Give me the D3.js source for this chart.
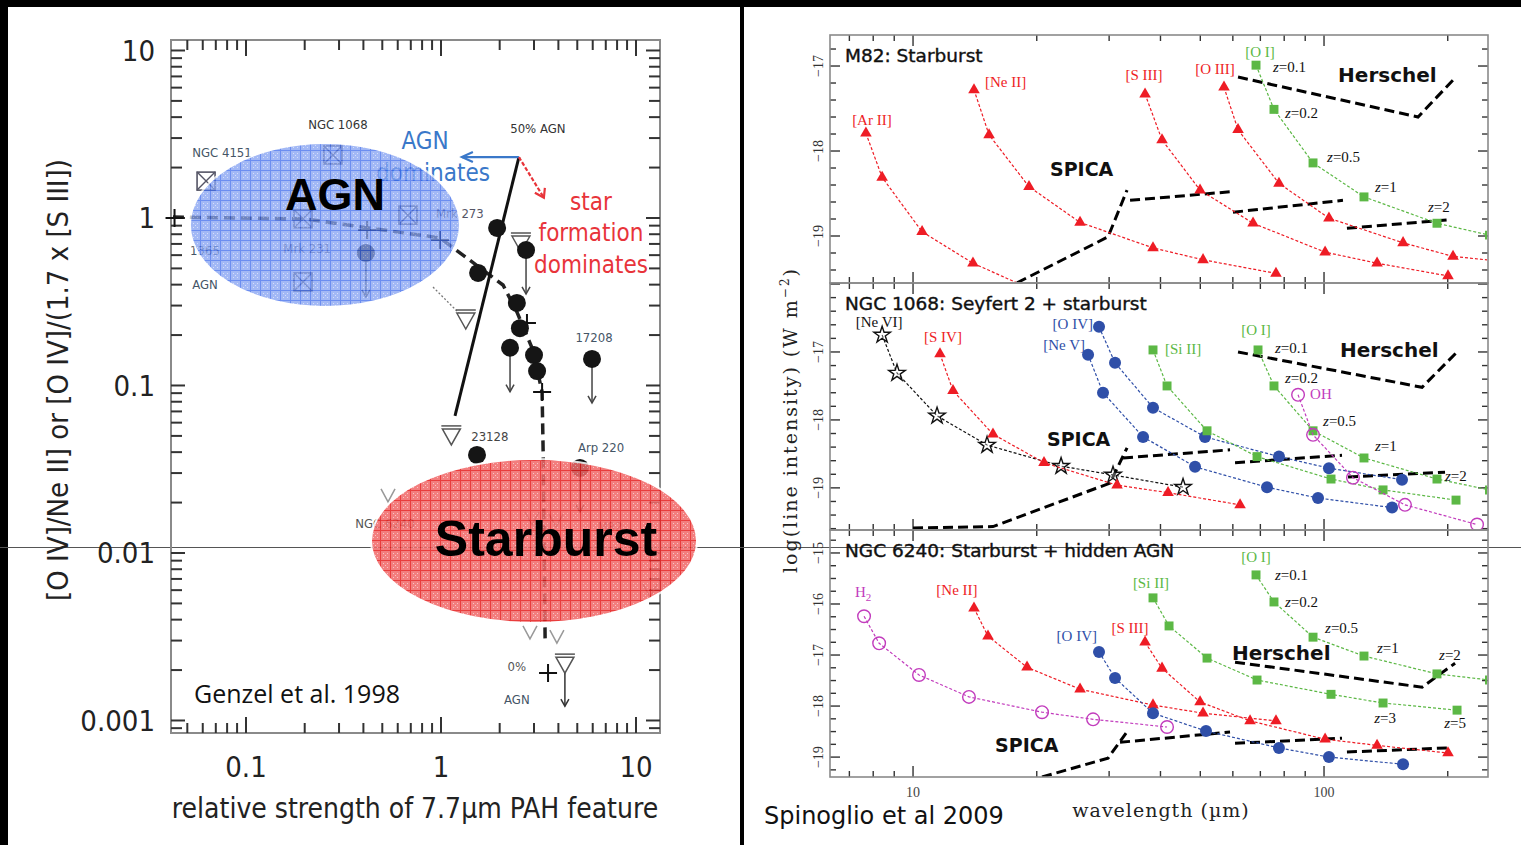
<!DOCTYPE html>
<html><head><meta charset="utf-8">
<script src="https://cdn.jsdelivr.net/npm/d3@7"></script>
<style>body{margin:0;background:#000}svg{display:block}</style>
</head><body>
<svg id="fig" width="1521" height="845"></svg>
<script>
// ===================== Left figure: Genzel et al. 1998 =====================
const pahTickValues = [0.1, 1, 10];
const pahTickLabels = ["0.1", "1", "10"];
const ratioTickValues = [0.001, 0.01, 0.1, 1, 10];
const ratioTickLabels = ["0.001", "0.01", "0.1", "1", "10"];

// ULIRGs (filled circles): PAH strength, line ratio, upper-limit flag
const ulirgPah   = [0.412, 1.94, 2.73, 1.55, 2.45, 2.54, 2.26, 3.00, 3.11, 5.95, 1.53, 5.16];
const ulirgRatio = [0.618, 0.872, 0.644, 0.470, 0.311, 0.220, 0.168, 0.152, 0.122, 0.144, 0.0385, 0.0322];
const ulirgLimit = [1, 0, 1, 0, 0, 0, 1, 0, 0, 1, 0, 1];

// upper limits (open triangles)
const limitPah   = [2.57, 1.13, 4.32, 1.34];
const limitRatio = [0.709, 0.050, 0.00217, 0.246];
const faintPah   = [0.535, 2.93, 3.89, 2.86, 3.93, 11.8];
const faintRatio = [0.0222, 0.0162, 0.0157, 0.00338, 0.00319, 0.00601];

// AGN templates (boxed crosses)
const agnPah   = [0.0624, 0.279, 0.677, 0.196, 0.196];
const agnRatio = [1.66, 2.38, 1.04, 0.415, 0.99];

// mixing-line steps (+) and the mixing line itself
const stepPah   = [0.043, 0.418, 0.988, 2.76, 3.30, 3.54];
const stepRatio = [1.00, 0.848, 0.739, 0.236, 0.0914, 0.00192];
const mixPah    = [0.0422, 0.201, 0.988, 2.08, 2.45, 2.96, 3.30, 3.34, 3.42];
const mixRatio  = [1.014, 0.986, 0.760, 0.398, 0.275, 0.163, 0.0914, 0.0412, 0.00303];
const halfPah   = [2.51, 1.18];
const halfRatio = [2.31, 0.0658];

// object names
const nameText  = ["NGC 1068", "NGC 4151", "1365", "AGN", "Mrk 231", "Mrk 273", "50% AGN", "17208", "23128", "Arp 220", "NGC 6240", "M82", "0%", "AGN"];
const namePah   = [0.296, 0.0753, 0.0616, 0.0616, 0.206, 1.25, 3.14, 6.09, 1.78, 6.62, 0.516, 7.36, 2.45, 2.45];
const nameRatio = [3.64, 2.48, 0.644, 0.404, 0.662, 1.07, 3.45, 0.195, 0.050, 0.043, 0.0151, 0.0145, 0.00211, 0.00134];
const nameColor = ["#333", "#456", "#456", "#456", "#667", "#556", "#333", "#456", "#444", "#456", "#555", "#777", "#555", "#456"];

// ===================== Right figure: Spinoglio et al. 2009 =====================
const waveTickValues = [10, 100];
const waveTickLabels = ["10", "100"];

// M82: Starburst  [wavelength (um), log intensity]
const m82ArII = [[7.68,-17.79],[8.41,-18.31],[10.52,-18.95],[13.99,-19.32],[20.97,-19.70]];
const m82NeII = [[14.07,-17.28],[15.31,-17.81],[19.15,-18.42],[25.49,-18.84],[38.36,-19.14],[50.77,-19.28],[76.40,-19.44]];
const m82SIII = [[36.69,-17.33],[40.35,-17.87],[49.93,-18.46],[67.19,-18.85],[100.6,-19.19],[134.6,-19.32],[200.3,-19.47]];
const m82OIII = [[57.10,-17.25],[61.77,-17.75],[77.69,-18.38],[102.8,-18.79],[155.7,-19.08],[206.0,-19.24],[310.8,-19.33]];
const m82OI   = [[68.32,-16.99],[75.55,-17.51],[94.03,-18.14],[125.1,-18.54],[188.3,-18.85],[252.7,-18.99]];
const m82Spica = [[[17.91,-19.55],[29.82,-19.01],[33.17,-18.46]], [[33.73,-18.58],[59.06,-18.48]], [[60.06,-18.72],[111.2,-18.58]], [[113.7,-18.91],[199.2,-18.81]]];
const m82Herschel = [[61.77,-17.13],[169.3,-17.60],[208.4,-17.14]];

// NGC 1068: Seyfert 2 + starburst
const n1068NeVI = [[8.41,-16.75],[9.14,-17.31],[11.44,-17.94],[15.14,-18.37],[22.92,-18.68],[30.66,-18.81],[45.39,-18.99]];
const n1068SIV  = [[11.63,-17.03],[12.51,-17.57],[15.65,-18.21],[20.83,-18.63],[31.36,-18.96],[41.73,-19.07],[62.47,-19.25]];
const n1068OIV  = [[28.35,-16.63],[31.01,-17.16],[38.36,-17.82],[51.34,-18.25],[77.69,-18.54],[102.8,-18.71],[154.8,-18.88]];
const n1068NeV  = [[26.66,-17.04],[28.99,-17.60],[36.28,-18.25],[48.55,-18.69],[72.66,-18.99],[96.69,-19.15],[146.4,-19.29]];
const n1068SiII = [[38.36,-16.97],[41.50,-17.50],[51.92,-18.16],[68.71,-18.54],[104.0,-18.87],[139.2,-19.03],[209.5,-19.18]];
const n1068OI   = [[69.09,-16.97],[75.55,-17.50],[94.03,-18.16],[125.1,-18.56],[188.3,-18.87],[252.7,-19.03]];
const n1068OH   = [[86.46,-17.63],[94.03,-18.22],[117.6,-18.85],[157.4,-19.25],[235.7,-19.54]];
const n1068Spica = [[[10.0,-19.59],[15.65,-19.57],[30.15,-18.93],[33.17,-18.41]], [[32.43,-18.56],[59.06,-18.44]], [[60.74,-18.63],[110.6,-18.52]], [[114.4,-18.84],[197.0,-18.77]]];
const n1068Herschel = [[61.77,-17.00],[173.2,-17.52],[210.7,-17.00]];

// NGC 6240: Starburst + hidden AGN
const n6240H2   = [[7.60,-16.24],[8.27,-16.77],[10.34,-17.39],[13.68,-17.82],[20.60,-18.12],[27.42,-18.26],[41.50,-18.41]];
const n6240NeII = [[14.07,-16.08],[15.22,-16.63],[18.94,-17.24],[25.49,-17.67],[38.36,-17.98],[50.77,-18.14],[76.40,-18.29]];
const n6240SIII = [[36.69,-16.75],[40.35,-17.26],[49.93,-17.92],[66.07,-18.29],[100.6,-18.65],[134.6,-18.77],[200.3,-18.92]];
const n6240OIV  = [[28.35,-16.94],[31.01,-17.45],[38.36,-18.14],[51.63,-18.49],[77.69,-18.82],[102.8,-19.00],[155.7,-19.14]];
const n6240SiII = [[38.36,-15.88],[41.97,-16.43],[51.92,-17.06],[68.71,-17.49],[104.0,-17.77],[139.2,-17.94],[210.7,-18.08]];
const n6240OI   = [[68.32,-15.43],[75.55,-15.96],[94.03,-16.65],[125.1,-17.02],[188.3,-17.37],[252.7,-17.49]];
const n6240Spica = [[[20.60,-19.39],[29.82,-19.02],[32.98,-18.53]], [[31.89,-18.71],[59.06,-18.51]], [[60.74,-18.73],[110.6,-18.63]], [[113.7,-18.90],[200.3,-18.82]]];
const n6240Herschel = [[60.74,-17.14],[173.2,-17.63],[208.4,-17.16]];

// ---------------------------------------------------------------------------
const CONDENSED = "'DejaVu Sans Condensed','DejaVu Sans',sans-serif";
const SANS = "'DejaVu Sans',Verdana,sans-serif";
const SERIF = "'Liberation Serif','Times New Roman',serif";
const RED = "#ee1c25", GREEN = "#5cb845", BLUE = "#2f4fa8", MAGENTA = "#c23cbd", BLACK = "#111";

const svg = d3.select("#fig");

// page background and frames
svg.append("rect").attr("width", 1521).attr("height", 845).attr("fill", "#000");
svg.append("rect").attr("x", 8).attr("y", 7).attr("width", 732).attr("height", 838).attr("fill", "#fff");
svg.append("rect").attr("x", 744).attr("y", 7).attr("width", 777).attr("height", 838).attr("fill", "#fff");
svg.append("line").attr("x1", 0).attr("x2", 1521).attr("y1", 547.5).attr("y2", 547.5)
  .attr("stroke", "#555").attr("stroke-width", 1);

// ----------------------------- left chart ---------------------------------
const LX0 = 171, LX1 = 660, LY0 = 40, LY1 = 733;
const xL = d3.scaleLog().domain([0.04124, 13.28]).range([LX0, LX1]);
const yL = d3.scaleLog().domain([0.000842, 11.55]).range([LY1, LY0]);
const gL = svg.append("g");
const isDecade = v => Math.abs(Math.log10(v) - Math.round(Math.log10(v))) < 1e-6;

gL.append("rect").attr("x", LX0).attr("y", LY0).attr("width", LX1 - LX0).attr("height", LY1 - LY0)
  .attr("fill", "none").attr("stroke", "#8a8a8a").attr("stroke-width", 2);

xL.ticks().forEach(v => {
  const len = isDecade(v) ? 16 : 10, x = xL(v);
  gL.append("line").attr("x1", x).attr("x2", x).attr("y1", LY1).attr("y2", LY1 - len).attr("stroke", "#333").attr("stroke-width", 2);
  gL.append("line").attr("x1", x).attr("x2", x).attr("y1", LY0).attr("y2", LY0 + len).attr("stroke", "#333").attr("stroke-width", 2);
});
yL.ticks().forEach(v => {
  const len = isDecade(v) ? 14 : 11, y = yL(v);
  gL.append("line").attr("x1", LX0).attr("x2", LX0 + len).attr("y1", y).attr("y2", y).attr("stroke", "#333").attr("stroke-width", 2);
  gL.append("line").attr("x1", LX1).attr("x2", LX1 - len).attr("y1", y).attr("y2", y).attr("stroke", "#333").attr("stroke-width", 2);
});

pahTickValues.forEach((v, i) => gL.append("text").attr("x", xL(v)).attr("y", 777)
  .attr("text-anchor", "middle").attr("font-family", CONDENSED).attr("font-stretch", "condensed")
  .attr("font-size", 29).attr("fill", "#222").text(pahTickLabels[i]));
ratioTickValues.forEach((v, i) => gL.append("text").attr("x", 155).attr("y", yL(v)).attr("dy", "0.36em")
  .attr("text-anchor", "end").attr("font-family", CONDENSED).attr("font-stretch", "condensed")
  .attr("font-size", 29).attr("fill", "#222").text(ratioTickLabels[i]));

gL.append("text").attr("x", 415).attr("y", 818).attr("text-anchor", "middle")
  .attr("font-family", CONDENSED).attr("font-stretch", "condensed").attr("font-size", 28).attr("fill", "#222")
  .text("relative strength of 7.7µm PAH feature");
gL.append("text").attr("transform", "translate(58,380) rotate(-90)").attr("dy", "0.36em").attr("text-anchor", "middle")
  .attr("font-family", CONDENSED).attr("font-stretch", "condensed").attr("font-size", 29).attr("fill", "#222")
  .text("[O IV]/Ne II] or [O IV]/(1.7 x [S III])");

// faint upper limits inside the starburst region
faintPah.forEach((p, i) => {
  const x = xL(p), y = yL(faintRatio[i]);
  gL.append("path").attr("d", `M${x - 7},${y - 6}L${x},${y + 7}L${x + 7},${y - 6}`)
    .attr("fill", "none").attr("stroke", "#999").attr("stroke-width", 1.5);
});

// mixing line
gL.append("path").datum(mixPah.map((p, i) => [p, mixRatio[i]]))
  .attr("d", d3.line().x(d => xL(d[0])).y(d => yL(d[1])))
  .attr("fill", "none").attr("stroke", "#222").attr("stroke-width", 3.5).attr("stroke-dasharray", "11,6");
gL.append("path").datum(halfPah.map((p, i) => [p, halfRatio[i]]))
  .attr("d", d3.line().x(d => xL(d[0])).y(d => yL(d[1])))
  .attr("fill", "none").attr("stroke", "#111").attr("stroke-width", 3);
gL.append("line").attr("x1", xL(0.91)).attr("y1", yL(0.387)).attr("x2", xL(1.34)).attr("y2", yL(0.246))
  .attr("stroke", "#777").attr("stroke-width", 1.3).attr("stroke-dasharray", "2,2");

// AGN / star-formation direction arrows
const arrowStart = [2.51, 2.31], agnEnd = [1.28, 2.31], sfEnd = [3.37, 1.32];
gL.append("line").attr("x1", xL(arrowStart[0])).attr("y1", yL(arrowStart[1])).attr("x2", xL(agnEnd[0])).attr("y2", yL(agnEnd[1]))
  .attr("stroke", "#3a78c9").attr("stroke-width", 2.2);
gL.append("path").attr("d", `M${xL(agnEnd[0]) + 11},${yL(agnEnd[1]) - 5}L${xL(agnEnd[0])},${yL(agnEnd[1])}L${xL(agnEnd[0]) + 11},${yL(agnEnd[1]) + 5}`)
  .attr("fill", "none").attr("stroke", "#3a78c9").attr("stroke-width", 2.2);
gL.append("line").attr("x1", xL(arrowStart[0])).attr("y1", yL(arrowStart[1])).attr("x2", xL(sfEnd[0])).attr("y2", yL(sfEnd[1]))
  .attr("stroke", "#e8343a").attr("stroke-width", 2.2).attr("stroke-dasharray", "4,2");
{
  const x2 = xL(sfEnd[0]), y2 = yL(sfEnd[1]);
  gL.append("path").attr("d", `M${x2 - 9},${y2 - 5}L${x2},${y2}L${x2 + 1},${y2 - 10}`)
    .attr("fill", "none").attr("stroke", "#e8343a").attr("stroke-width", 2.2);
}

// AGN templates
agnPah.forEach((p, i) => {
  const x = xL(p), y = yL(agnRatio[i]), h = 9;
  gL.append("rect").attr("x", x - h).attr("y", y - h).attr("width", 2 * h).attr("height", 2 * h)
    .attr("fill", "none").attr("stroke", "#556").attr("stroke-width", 1.6);
  gL.append("path").attr("d", `M${x - h},${y - h}L${x + h},${y + h}M${x + h},${y - h}L${x - h},${y + h}`)
    .attr("stroke", "#556").attr("stroke-width", 1.4);
});

// upper limits (open triangles)
limitPah.forEach((p, i) => {
  const x = xL(p), y = yL(limitRatio[i]);
  gL.append("path").attr("d", `M${x - 9},${y - 7}L${x},${y + 9}L${x + 9},${y - 7}Z`)
    .attr("fill", "#fff").attr("stroke", "#555").attr("stroke-width", 1.5);
  gL.append("line").attr("x1", x - 10).attr("x2", x + 10).attr("y1", y - 10).attr("y2", y - 10)
    .attr("stroke", "#555").attr("stroke-width", 1.5);
});
{
  const x = xL(limitPah[2]), y = yL(limitRatio[2]);
  gL.append("line").attr("x1", x).attr("x2", x).attr("y1", y + 9).attr("y2", y + 42).attr("stroke", "#333").attr("stroke-width", 1.5);
  gL.append("path").attr("d", `M${x - 4},${y + 35}L${x},${y + 42}L${x + 4},${y + 35}`).attr("fill", "none").attr("stroke", "#333").attr("stroke-width", 1.5);
}

// mixing-line steps
stepPah.forEach((p, i) => {
  const x = xL(p), y = yL(stepRatio[i]);
  gL.append("path").attr("d", `M${x - 9},${y}L${x + 9},${y}M${x},${y - 9}L${x},${y + 9}`)
    .attr("stroke", "#111").attr("stroke-width", 2);
});

// ULIRGs
ulirgPah.forEach((p, i) => {
  const x = xL(p), y = yL(ulirgRatio[i]);
  if (ulirgLimit[i]) {
    gL.append("line").attr("x1", x).attr("x2", x).attr("y1", y).attr("y2", y + 44).attr("stroke", "#444").attr("stroke-width", 1.5);
    gL.append("path").attr("d", `M${x - 4},${y + 37}L${x},${y + 44}L${x + 4},${y + 37}`).attr("fill", "none").attr("stroke", "#444").attr("stroke-width", 1.5);
  }
  gL.append("circle").attr("cx", x).attr("cy", y).attr("r", 9).attr("fill", "#151515");
});

// object names
nameText.forEach((t, i) => gL.append("text").attr("x", xL(namePah[i])).attr("y", yL(nameRatio[i])).attr("dy", "0.36em")
  .attr("text-anchor", "middle").attr("font-family", CONDENSED).attr("font-stretch", "condensed")
  .attr("font-size", 13).attr("fill", nameColor[i]).text(t));

// direction captions
const captionBlue = [["AGN", 0.828, 2.92], ["dominates", 0.91, 1.88]];
const captionRed = [["star", 5.88, 1.26], ["formation", 5.88, 0.825], ["dominates", 5.88, 0.531]];
captionBlue.forEach(c => gL.append("text").attr("x", xL(c[1])).attr("y", yL(c[2])).attr("dy", "0.36em").attr("text-anchor", "middle")
  .attr("font-family", CONDENSED).attr("font-stretch", "condensed").attr("font-size", 24).attr("fill", "#3a78c9").text(c[0]));
captionRed.forEach(c => gL.append("text").attr("x", xL(c[1])).attr("y", yL(c[2])).attr("dy", "0.36em").attr("text-anchor", "middle")
  .attr("font-family", CONDENSED).attr("font-stretch", "condensed").attr("font-size", 24).attr("fill", "#e8343a").text(c[0]));

// highlighted regions with a grid texture
const defs = svg.append("defs");
function gridPattern(id, base, line) {
  const p = defs.append("pattern").attr("id", id).attr("patternUnits", "userSpaceOnUse").attr("width", 10).attr("height", 10);
  p.append("rect").attr("width", 10).attr("height", 10).attr("fill", base);
  p.append("path").attr("d", "M0,0.5H10M0.5,0V10").attr("stroke", line).attr("stroke-width", 1);
  [[3, 3], [7, 7], [3, 7], [7, 3], [5, 5]].forEach(d => p.append("rect").attr("x", d[0]).attr("y", d[1]).attr("width", 1).attr("height", 1).attr("fill", "#fff").attr("opacity", 0.55));
}
gridPattern("gridBlue", "#86a3f3", "#3f6bec");
gridPattern("gridRed", "#f26a6a", "#e61e1e");

const agnRegion = { pah: 0.254, ratio: 0.908, rx: 135, ry: 82 };
const sbRegion = { pah: 3.0, ratio: 0.0118, rx: 163, ry: 82 };
gL.append("ellipse").attr("cx", xL(agnRegion.pah)).attr("cy", yL(agnRegion.ratio)).attr("rx", agnRegion.rx).attr("ry", agnRegion.ry)
  .attr("fill", "url(#gridBlue)").attr("opacity", 0.76).attr("stroke", "#fff").attr("stroke-width", 2);
gL.append("ellipse").attr("cx", xL(sbRegion.pah)).attr("cy", yL(sbRegion.ratio)).attr("rx", sbRegion.rx).attr("ry", sbRegion.ry)
  .attr("fill", "url(#gridRed)").attr("opacity", 0.86).attr("stroke", "#fff").attr("stroke-width", 2);
gL.append("text").attr("x", 335).attr("y", 210).attr("text-anchor", "middle")
  .attr("font-family", "'Liberation Sans',Arial,sans-serif").attr("font-weight", "bold").attr("font-size", 45).attr("fill", "#000").text("AGN");
gL.append("text").attr("x", 546).attr("y", 556).attr("text-anchor", "middle")
  .attr("font-family", "'Liberation Sans',Arial,sans-serif").attr("font-weight", "bold").attr("font-size", 50).attr("fill", "#000").text("Starburst");

gL.append("text").attr("x", 194).attr("y", 703).attr("font-family", "'Open Sans',sans-serif")
  .attr("font-size", 25).attr("fill", "#111").text("Genzel et al. 1998");

// ----------------------------- right chart --------------------------------
const RX0 = 830, RX1 = 1488;
const xR = d3.scaleLog().domain([6.28, 250.6]).range([RX0, RX1]);
const gR = svg.append("g");

const panels = [
  { y0: 35, y1: 283, dom: [-19.553, -16.635], labels: [-17, -18, -19], step: 0.2, title: "M82: Starburst",
    series: [
      { data: m82ArII, color: RED, mark: "tri" }, { data: m82NeII, color: RED, mark: "tri" },
      { data: m82SIII, color: RED, mark: "tri" }, { data: m82OIII, color: RED, mark: "tri" },
      { data: m82OI, color: GREEN, mark: "sq" }],
    notes: [
      ["[Ar II]", m82ArII[0], 6, -13, "middle", RED], ["[Ne II]", m82NeII[0], 11, -8, "start", RED],
      ["[S III]", m82SIII[0], -1, -19, "middle", RED], ["[O III]", m82OIII[0], -9, -19, "middle", RED],
      ["[O I]", m82OI[0], 4, -13, "middle", GREEN],
      ["z=0.1", m82OI[0], 17, 2, "start", BLACK], ["z=0.2", m82OI[1], 11, 3, "start", BLACK],
      ["z=0.5", m82OI[2], 14, -6, "start", BLACK], ["z=1", m82OI[3], 11, -10, "start", BLACK],
      ["z=2", m82OI[4], -9, -17, "start", BLACK]],
    spica: m82Spica, herschel: m82Herschel, spicaAt: [21.54, -18.29], herschelAt: [108.2, -17.19] },
  { y0: 283, y1: 530, dom: [-19.62, -15.985], labels: [-17, -18, -19], step: 0.2, title: "NGC 1068: Seyfert 2 + starburst",
    series: [
      { data: n1068NeVI, color: BLACK, mark: "star" }, { data: n1068SIV, color: RED, mark: "tri" },
      { data: n1068NeV, color: BLUE, mark: "dot" }, { data: n1068OIV, color: BLUE, mark: "dot" },
      { data: n1068SiII, color: GREEN, mark: "sq" }, { data: n1068OI, color: GREEN, mark: "sq" },
      { data: n1068OH, color: MAGENTA, mark: "ring" }],
    notes: [
      ["[Ne VI]", n1068NeVI[0], -3, -13, "middle", BLACK], ["[S IV]", n1068SIV[0], 3, -17, "middle", RED],
      ["[O IV]", n1068OIV[0], -6, -3, "end", BLUE], ["[Ne V]", n1068NeV[0], -3, -10, "end", BLUE],
      ["[Si II]", n1068SiII[0], 12, -1, "start", GREEN], ["[O I]", n1068OI[0], -2, -20, "middle", GREEN],
      ["OH", n1068OH[0], 12, -1, "start", MAGENTA],
      ["z=0.1", n1068OI[0], 17, -2, "start", BLACK], ["z=0.2", n1068OI[1], 11, -8, "start", BLACK],
      ["z=0.5", n1068OI[2], 10, -10, "start", BLACK], ["z=1", n1068OI[3], 11, -12, "start", BLACK],
      ["z=2", n1068OI[4], 8, -3, "start", BLACK]],
    spica: n1068Spica, herschel: n1068Herschel, spicaAt: [21.18, -18.38], herschelAt: [109.4, -17.07] },
  { y0: 530, y1: 777, dom: [-19.39, -14.55], labels: [-15, -16, -17, -18, -19], step: 0.25, title: "NGC 6240: Starburst + hidden AGN",
    series: [
      { data: n6240H2, color: MAGENTA, mark: "ring" }, { data: n6240NeII, color: RED, mark: "tri" },
      { data: n6240SIII, color: RED, mark: "tri" }, { data: n6240OIV, color: BLUE, mark: "dot" },
      { data: n6240SiII, color: GREEN, mark: "sq" }, { data: n6240OI, color: GREEN, mark: "sq" }],
    notes: [
      ["H2", n6240H2[0], -1, -24, "middle", MAGENTA], ["[Ne II]", n6240NeII[0], -17, -18, "middle", RED],
      ["[O IV]", n6240OIV[0], -2, -16, "end", BLUE], ["[S III]", n6240SIII[0], -15, -15, "middle", RED],
      ["[Si II]", n6240SiII[0], -2, -15, "middle", GREEN], ["[O I]", n6240OI[0], 0, -18, "middle", GREEN],
      ["z=0.1", n6240OI[0], 19, 0, "start", BLACK], ["z=0.2", n6240OI[1], 11, 0, "start", BLACK],
      ["z=0.5", n6240OI[2], 12, -9, "start", BLACK], ["z=1", n6240OI[3], 13, -8, "start", BLACK],
      ["z=2", n6240OI[4], 13, -19, "middle", BLACK], ["z=3", n6240SiII[5], 2, 15, "middle", BLACK],
      ["z=5", n6240SiII[6], -2, 13, "middle", BLACK]],
    spica: n6240Spica, herschel: n6240Herschel, spicaAt: [15.83, -18.90], herschelAt: [59.7, -17.10] }
];

panels.forEach((pn, pi) => {
  const y = d3.scaleLinear().domain(pn.dom).range([pn.y1, pn.y0]);
  const g = gR.append("g");
  const clipId = "clip" + pi;
  defs.append("clipPath").attr("id", clipId).append("rect")
    .attr("x", RX0).attr("y", pn.y0).attr("width", RX1 - RX0 - 1).attr("height", pn.y1 - pn.y0);

  // ticks on all four sides
  xR.ticks().forEach(v => {
    const len = isDecade(v) ? 11 : 6, x = xR(v);
    g.append("line").attr("x1", x).attr("x2", x).attr("y1", pn.y1).attr("y2", pn.y1 - len).attr("stroke", "#333").attr("stroke-width", 1.4);
    g.append("line").attr("x1", x).attr("x2", x).attr("y1", pn.y0).attr("y2", pn.y0 + len).attr("stroke", "#333").attr("stroke-width", 1.4);
  });
  for (let k = Math.ceil(pn.dom[0] / pn.step - 1e-6); k * pn.step <= pn.dom[1] + 1e-6; k++) {
    const v = k * pn.step, yy = y(v);
    const len = Math.abs(v - Math.round(v)) < 1e-6 ? 10 : 6;
    g.append("line").attr("x1", RX0).attr("x2", RX0 + len).attr("y1", yy).attr("y2", yy).attr("stroke", "#333").attr("stroke-width", 1.4);
    g.append("line").attr("x1", RX1).attr("x2", RX1 - len).attr("y1", yy).attr("y2", yy).attr("stroke", "#333").attr("stroke-width", 1.4);
  }
  pn.labels.forEach(v => g.append("text").attr("transform", `translate(818,${y(v)}) rotate(-90)`).attr("dy", "0.35em")
    .attr("text-anchor", "middle").attr("font-family", SERIF).attr("font-size", 14).attr("fill", "#333")
    .text("\u2212" + Math.abs(v)));

  const body = g.append("g").attr("clip-path", `url(#${clipId})`);
  const line = d3.line().x(d => xR(d[0])).y(d => y(d[1]));

  // SPICA and Herschel sensitivity curves
  pn.spica.forEach(seg => body.append("path").datum(seg).attr("d", line).attr("fill", "none")
    .attr("stroke", "#000").attr("stroke-width", 3).attr("stroke-dasharray", "10,5"));
  body.append("path").datum(pn.herschel).attr("d", line).attr("fill", "none")
    .attr("stroke", "#000").attr("stroke-width", 3).attr("stroke-dasharray", "10,5");

  // redshifted line tracks
  pn.series.forEach(s => {
    body.append("path").datum(s.data).attr("d", line).attr("fill", "none")
      .attr("stroke", s.color).attr("stroke-width", 1.2).attr("stroke-dasharray", "3,2");
    s.data.forEach(d => {
      const px = xR(d[0]), py = y(d[1]);
      if (s.mark === "tri") body.append("path").attr("d", d3.symbol(d3.symbolTriangle, 58)()).attr("transform", `translate(${px},${py})`).attr("fill", s.color);
      else if (s.mark === "sq") body.append("path").attr("d", d3.symbol(d3.symbolSquare, 80)()).attr("transform", `translate(${px},${py})`).attr("fill", s.color);
      else if (s.mark === "dot") body.append("circle").attr("cx", px).attr("cy", py).attr("r", 6).attr("fill", s.color);
      else if (s.mark === "ring") body.append("circle").attr("cx", px).attr("cy", py).attr("r", 6.3).attr("fill", "none").attr("stroke", s.color).attr("stroke-width", 1.4);
      else if (s.mark === "star") body.append("path").attr("d", d3.symbol(d3.symbolStar, 85)()).attr("transform", `translate(${px},${py})`)
        .attr("fill", "#fff").attr("fill-opacity", 0.3).attr("stroke", s.color).attr("stroke-width", 1.4);
    });
  });

  // line names and redshift marks
  pn.notes.forEach(n => {
    const t = g.append("text").attr("x", xR(n[1][0]) + n[2]).attr("y", y(n[1][1]) + n[3]).attr("dy", "0.35em")
      .attr("text-anchor", n[4]).attr("font-family", SERIF).attr("font-size", 15).attr("fill", n[5]);
    if (n[0].startsWith("z=")) {
      t.append("tspan").attr("font-style", "italic").text("z");
      t.append("tspan").text(n[0].slice(1));
    } else if (n[0] === "H2") {
      t.append("tspan").text("H");
      t.append("tspan").attr("font-size", 11).attr("dy", 4).text("2");
    } else t.text(n[0]);
  });

  g.append("text").attr("x", xR(pn.spicaAt[0])).attr("y", y(pn.spicaAt[1])).attr("font-family", SANS)
    .attr("font-weight", "bold").attr("font-size", 19).attr("fill", "#111").text("SPICA");
  g.append("text").attr("x", xR(pn.herschelAt[0])).attr("y", y(pn.herschelAt[1])).attr("font-family", SANS)
    .attr("font-weight", "bold").attr("font-size", 20).attr("fill", "#111").text("Herschel");
  g.append("text").attr("x", RX0 + 15).attr("y", pn.y0 + 27).attr("font-family", SANS)
    .attr("font-size", 18.5).attr("fill", "#111").attr("stroke", "#111").attr("stroke-width", 0.4).text(pn.title);

  g.append("rect").attr("x", RX0).attr("y", pn.y0).attr("width", RX1 - RX0).attr("height", pn.y1 - pn.y0)
    .attr("fill", "none").attr("stroke", "#8a8a8a").attr("stroke-width", 1.6);
});

waveTickValues.forEach((v, i) => gR.append("text").attr("x", xR(v)).attr("y", 797).attr("text-anchor", "middle")
  .attr("font-family", SERIF).attr("font-size", 14).attr("fill", "#444").text(waveTickLabels[i]));
gR.append("text").attr("x", 1161).attr("y", 817).attr("text-anchor", "middle").attr("font-family", "'DejaVu Serif',serif")
  .attr("font-size", 19).attr("letter-spacing", 1).attr("fill", "#222").text("wavelength (\u00b5m)");
{
  const t = gR.append("text").attr("transform", "translate(790,420) rotate(-90)").attr("dy", "0.35em").attr("text-anchor", "middle")
    .attr("font-family", "'DejaVu Serif',serif").attr("font-size", 19).attr("letter-spacing", 2).attr("fill", "#222");
  t.append("tspan").text("log(line intensity) (W m");
  t.append("tspan").attr("font-size", 12).attr("dy", -8).text("\u22122");
  t.append("tspan").attr("dy", 8).text(")");
}
gR.append("text").attr("x", 764).attr("y", 824).attr("font-family", SANS).attr("font-size", 24)
  .attr("fill", "#111").text("Spinoglio et al 2009");
</script>
</body></html>
